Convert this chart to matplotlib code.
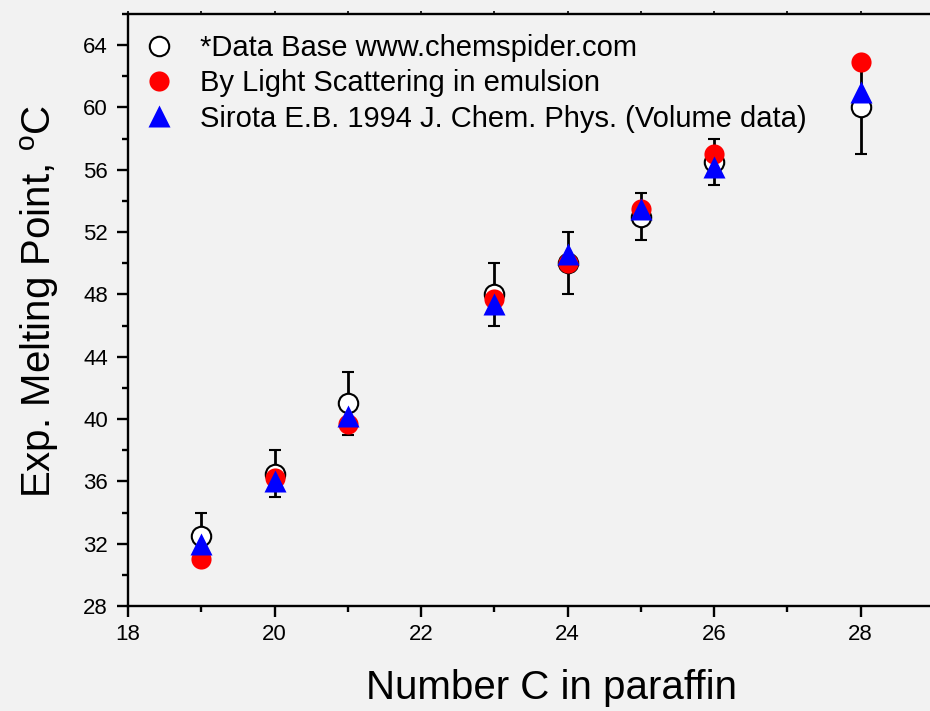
import matplotlib
matplotlib.use("Agg")
import matplotlib.pyplot as plt
from matplotlib.ticker import MultipleLocator
from matplotlib.lines import Line2D

plt.rcParams['font.family'] = ['Liberation Sans', 'DejaVu Sans']
plt.rcParams['mathtext.fontset'] = 'custom'
plt.rcParams['mathtext.rm'] = 'Liberation Sans'
plt.rcParams['mathtext.it'] = 'Liberation Sans:italic'

carbon = [19, 20, 21, 23, 24, 25, 26, 28]
db_mp = [32.5, 36.5, 41.0, 48.0, 50.0, 53.0, 56.5, 60.0]
db_err = [1.5, 1.5, 2.0, 2.0, 2.0, 1.5, 1.5, 3.0]
ls_mp = [31.0, 36.2, 39.7, 47.7, 50.0, 53.5, 57.0, 62.9]
sirota_mp = [32.0, 36.0, 40.2, 47.4, 50.6, 53.5, 56.2, 61.0]

x_ticks = [18, 20, 22, 24, 26, 28]
y_ticks = [28, 32, 36, 40, 44, 48, 52, 56, 60, 64]

labels = ["*Data Base www.chemspider.com",
          "By Light Scattering in emulsion",
          "Sirota E.B. 1994 J. Chem. Phys. (Volume data)"]

bg = '#f2f2f2'
fig = plt.figure(figsize=(9.30, 7.11), dpi=100, facecolor=bg)
ax = fig.add_axes([128/930, 1 - 606/711, (934-128)/930, (606-14)/711], facecolor=bg)

ax.errorbar(carbon, db_mp, yerr=db_err, fmt='o', mfc='white', mec='black', mew=1.5,
            ms=14, ecolor='black', elinewidth=2, capsize=4.5, capthick=2.4, zorder=3)
h1, = ax.plot(carbon, ls_mp, 'o', color='red', ms=14.5, mec='none', zorder=4)
h2, = ax.plot(carbon, sirota_mp, '^', color='blue', ms=16, mec='none', zorder=5)

ax.set_xlim(18, 29)
ax.set_ylim(28, 66)
ax.set_xticks(x_ticks)
ax.set_yticks(y_ticks)
ax.xaxis.set_minor_locator(MultipleLocator(1))
ax.yaxis.set_minor_locator(MultipleLocator(2))

for s in ['left', 'bottom', 'top']:
    ax.spines[s].set_linewidth(1.7)
ax.spines['right'].set_visible(False)

ax.tick_params(which='major', direction='out', length=8, width=1.7, labelsize=16)
ax.tick_params(which='minor', direction='out', length=4, width=1.7)
ax.tick_params(axis='x', which='both', top=True)
ax.tick_params(axis='x', which='major', pad=5)
ax.tick_params(axis='y', which='major', pad=6.5)

ax.set_xlabel("Number C in paraffin", fontsize=29)
ax.xaxis.set_label_coords(0.525, -0.106)
ax.set_ylabel("Exp. Melting Point, $^{\\mathregular{o}}$C", fontsize=29)
ax.yaxis.set_label_coords(-0.0837, 0.514)

h0 = Line2D([], [], marker='o', ls='none', mfc='white', mec='black', mew=1.5, ms=14)
ax.legend([h0, h1, h2], labels, loc='upper left', frameon=False,
          fontsize=21, handletextpad=0.74, labelspacing=0.25, borderaxespad=0.0,
          borderpad=0.4, handlelength=1.32, bbox_to_anchor=(0.0, 0.986))

fig.canvas.draw()
for t in ax.xaxis.get_major_ticks() + ax.xaxis.get_minor_ticks():
    t.tick2line.set_markersize(2)
    t.tick2line.set_markeredgewidth(1.2)

fig.savefig('out.png', dpi=100, facecolor=bg)
